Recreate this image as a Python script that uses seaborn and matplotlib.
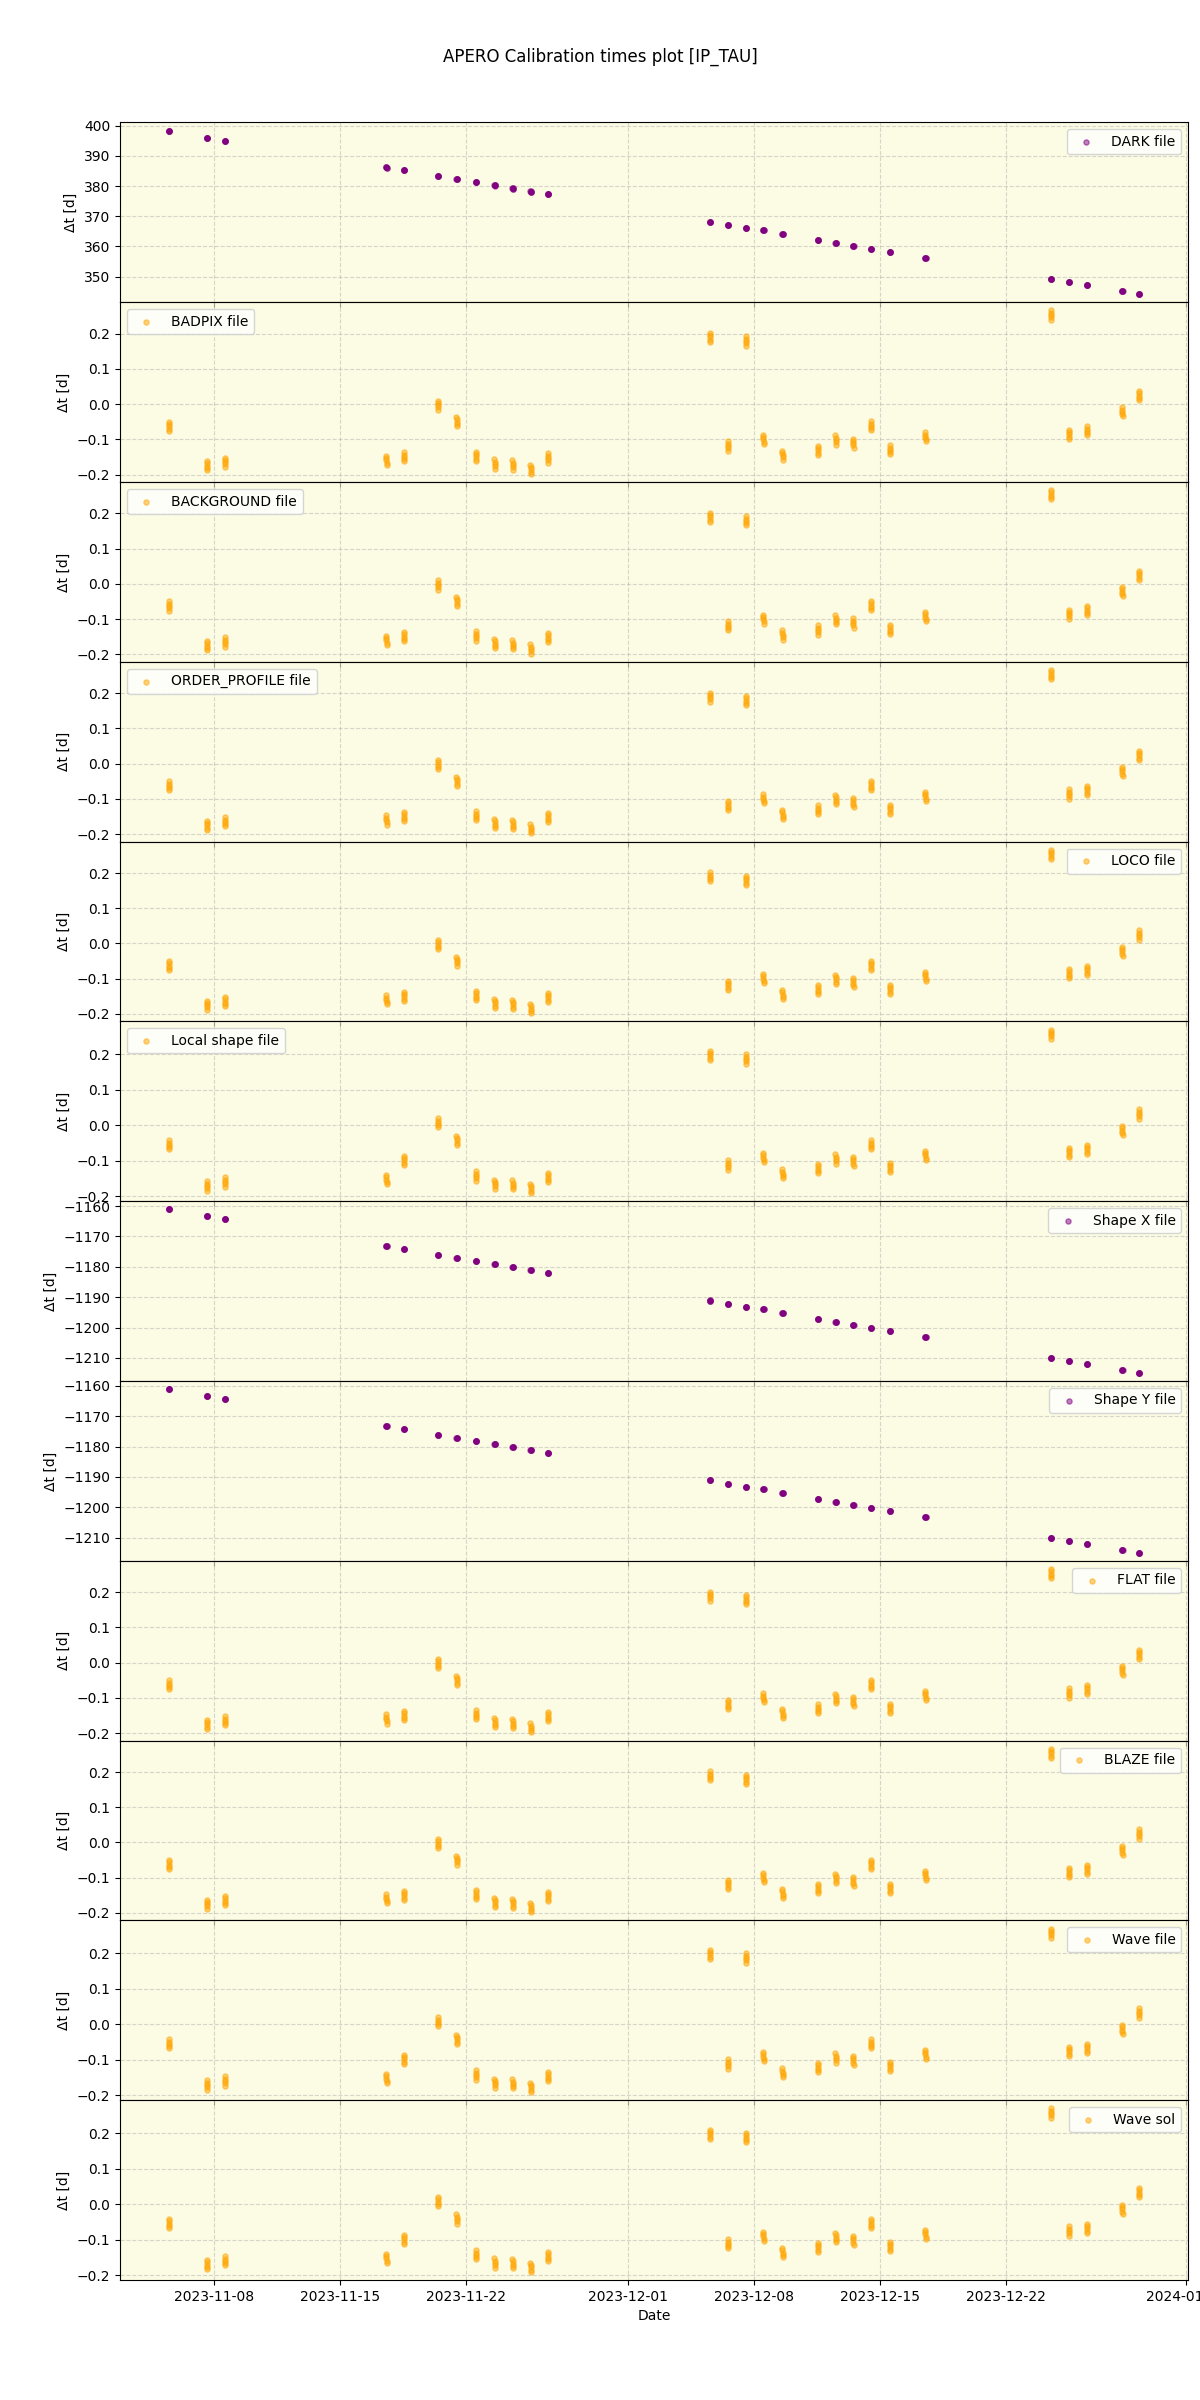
import pandas as pd
import matplotlib
matplotlib.use('Agg')
import matplotlib.pyplot as plt
import seaborn as sns

# observing nights (day of month, time of first exposure in UTC days)
nov_nights = [5.50, 7.61, 8.61, 17.58, 18.56, 20.45, 21.48, 22.56, 23.59, 24.59, 25.59, 26.55]
dec_nights = [5.53, 6.55, 7.55, 8.51, 9.57, 11.55, 12.52, 13.50, 14.48, 15.54, 17.50,
              24.47, 25.47, 26.47, 28.43, 29.37]
# spacing of the exposures inside one night (days)
exposure_offsets = [0.0, 0.0065, 0.013, 0.0195, 0.026]

# delta t of the first exposure of each night, one list per calibration
dark_dt = [398.35, 396.0, 395.05, 386.15, 385.2, 383.2, 382.2, 381.2, 380.2, 379.2, 378.2, 377.25,
           368.2, 367.1, 366.0, 365.4, 364.1, 362.1, 361.1, 360.1, 359.1, 358.1, 356.2,
           349.2, 348.2, 347.3, 345.3, 344.3]
badpix_dt = [-0.050, -0.162, -0.152, -0.147, -0.137, 0.010, -0.037, -0.135, -0.157, -0.160, -0.172, -0.140,
             0.202, -0.106, 0.192, -0.087, -0.132, -0.118, -0.089, -0.098, -0.049, -0.117, -0.080,
             0.266, -0.073, -0.063, -0.009, 0.037]
localshape_dt = [-0.042, -0.158, -0.147, -0.140, -0.086, 0.020, -0.029, -0.130, -0.153, -0.155, -0.165, -0.135,
                 0.210, -0.099, 0.200, -0.078, -0.124, -0.109, -0.082, -0.089, -0.042, -0.106, -0.072,
                 0.270, -0.063, -0.055, -0.002, 0.045]
shapex_dt = [-1161.1, -1163.4, -1164.4, -1173.2, -1174.2, -1176.2, -1177.2, -1178.2, -1179.2, -1180.1, -1181.1, -1182.1,
             -1191.1, -1192.2, -1193.2, -1193.9, -1195.2, -1197.2, -1198.2, -1199.2, -1200.2, -1201.2, -1203.1,
             -1210.0, -1211.0, -1212.0, -1213.9, -1214.9]
shapey_dt = [-1161.1, -1163.4, -1164.4, -1173.2, -1174.2, -1176.2, -1177.2, -1178.2, -1179.2, -1180.1, -1181.1, -1182.1,
             -1191.1, -1192.2, -1193.2, -1193.9, -1195.2, -1197.2, -1198.2, -1199.2, -1200.2, -1201.2, -1203.1,
             -1210.0, -1211.0, -1212.0, -1213.9, -1214.9]

panels = [
    ('DARK file', dark_dt, 'purple', 'upper right'),
    ('BADPIX file', badpix_dt, 'orange', 'upper left'),
    ('BACKGROUND file', badpix_dt, 'orange', 'upper left'),
    ('ORDER_PROFILE file', badpix_dt, 'orange', 'upper left'),
    ('LOCO file', badpix_dt, 'orange', 'upper right'),
    ('Local shape file', localshape_dt, 'orange', 'upper left'),
    ('Shape X file', shapex_dt, 'purple', 'upper right'),
    ('Shape Y file', shapey_dt, 'purple', 'upper right'),
    ('FLAT file', badpix_dt, 'orange', 'upper right'),
    ('BLAZE file', badpix_dt, 'orange', 'upper right'),
    ('Wave file', localshape_dt, 'orange', 'upper right'),
    ('Wave sol', localshape_dt, 'orange', 'upper right'),
]

night_times = ([pd.Timestamp('2023-11-01') + pd.to_timedelta(d - 1, unit='D') for d in nov_nights]
               + [pd.Timestamp('2023-12-01') + pd.to_timedelta(d - 1, unit='D') for d in dec_nights])

fig, axes = plt.subplots(len(panels), 1, figsize=(12, 24), dpi=100, sharex=True)
fig.subplots_adjust(left=0.1, right=0.99, top=0.949, bottom=0.05, hspace=0)

for ax, (label, values, color, loc) in zip(axes, panels):
    rows = []
    for t, dt in zip(night_times, values):
        for off in exposure_offsets:
            rows.append({'Date': t + pd.to_timedelta(off, unit='D'), 'dt': dt - off})
    df = pd.DataFrame(rows)
    ax.set_facecolor('lightgoldenrodyellow')
    ax.patch.set_alpha(0.6)
    sns.scatterplot(data=df, x='Date', y='dt', ax=ax, color=color, alpha=0.5, s=14,
                    edgecolor=color, linewidth=1, label=label, zorder=3)
    ax.grid(True, linestyle='--', alpha=0.5)
    ax.set_ylabel('Δt [d]')
    ax.set_xlabel('')
    ax.legend(loc=loc)

axes[-1].set_xlabel('Date')
fig.suptitle('APERO Calibration times plot [IP_TAU]', y=0.98, fontsize=12)
fig.savefig('out.png')
